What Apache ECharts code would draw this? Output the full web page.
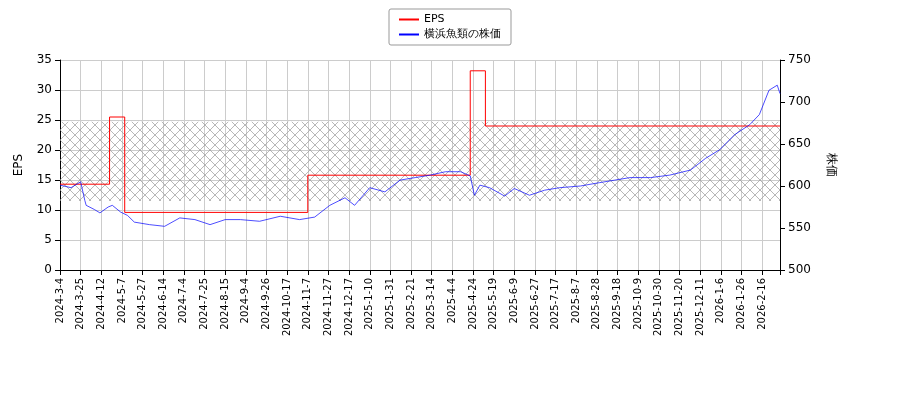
<!DOCTYPE html><html><head><meta charset="utf-8"><script src="https://cdn.jsdelivr.net/npm/echarts@6/dist/echarts.min.js"></script></head><body style="margin:0"><div id="c" style="width:900px;height:400px"></div><script>
const tickLabels=["2024-3-4","2024-3-25","2024-4-12","2024-5-7","2024-5-27","2024-6-14","2024-7-4","2024-7-25","2024-8-15","2024-9-4","2024-9-26","2024-10-17","2024-11-7","2024-11-27","2024-12-17","2025-1-10","2025-1-31","2025-2-21","2025-3-14","2025-4-4","2025-4-24","2025-5-19","2025-6-9","2025-6-27","2025-7-17","2025-8-7","2025-8-28","2025-9-18","2025-10-9","2025-10-30","2025-11-20","2025-12-11","2026-1-6","2026-1-26","2026-2-16"];
const epsSteps=[[0,14.3],[36,14.3],[36,25.5],[47,25.5],[47,9.6],[180,9.6],[180,15.8],[298,15.8],[298,33.2],[309,33.2],[309,24],[523,24]];
const price=[[0,601],[8,598],[15,605],[18,583],[19,577],[25,572],[29,568],[35,575],[38,577],[44,569],[49,565],[54,557],[65,554],[76,552],[87,562],[98,560],[109,554],[120,560],[131,560],[145,558],[160,564],[174,560],[185,563],[196,577],[207,586],[214,577],[225,598],[236,593],[247,607],[258,610],[269,613],[280,617],[291,617],[298,612],[301,589],[305,601],[312,598],[323,588],[330,597],[341,589],[352,595],[363,598],[378,600],[392,604],[403,607],[414,610],[429,610],[443,613],[458,619],[469,633],[479,643],[490,661],[501,673],[508,685],[515,714],[521,720],[523,710]];
const cv=document.createElement('canvas');cv.width=10;cv.height=10;const g=cv.getContext('2d');g.strokeStyle='#999';g.lineWidth=0.7;g.beginPath();g.moveTo(0,0);g.lineTo(10,10);g.moveTo(10,0);g.lineTo(0,10);g.stroke();
const ch=echarts.init(document.getElementById('c'));
ch.setOption({animation:false,textStyle:{fontFamily:'DejaVu Sans'},
legend:{top:9,left:'center',orient:'vertical',itemGap:4,borderColor:'#999',borderWidth:1,padding:[5,10],borderRadius:2,textStyle:{fontSize:11,color:'#000'},itemWidth:20,itemHeight:2,data:[{name:'EPS',icon:'rect'},{name:'横浜魚類の株価',icon:'rect'}]},
grid:{left:60,right:120,top:60,bottom:130},
xAxis:{type:'value',min:0,max:523,interval:15,axisLabel:{rotate:90,fontSize:10,color:'#000',formatter:v=>tickLabels[Math.round(v/15)]||''},splitLine:{lineStyle:{color:'#ccc'}},axisLine:{lineStyle:{color:'#000'}},axisTick:{lineStyle:{color:'#000'}}},
yAxis:[{type:'value',min:0,max:35,interval:5,name:'EPS',nameLocation:'middle',nameGap:35,nameTextStyle:{color:'#000'},axisLabel:{color:'#000'},splitLine:{lineStyle:{color:'#ccc'}},axisLine:{show:true,lineStyle:{color:'#000'}},axisTick:{show:true}},
{type:'value',min:500,max:750,interval:50,name:'株価',nameLocation:'middle',nameGap:45,nameRotate:-90,nameTextStyle:{color:'#000'},axisLabel:{color:'#000'},splitLine:{show:false},axisLine:{show:true,lineStyle:{color:'#000'}},axisTick:{show:true}}],
series:[{name:'EPS',type:'line',data:epsSteps,symbol:'none',color:'red',lineStyle:{width:1},
markArea:{silent:true,itemStyle:{color:{image:cv,repeat:'repeat'},opacity:1},data:[[{yAxis:11.5},{yAxis:24.7}]]}},
{name:'横浜魚類の株価',type:'line',yAxisIndex:1,data:price,symbol:'none',color:'blue',lineStyle:{width:0.7}}]});
</script></body></html>
